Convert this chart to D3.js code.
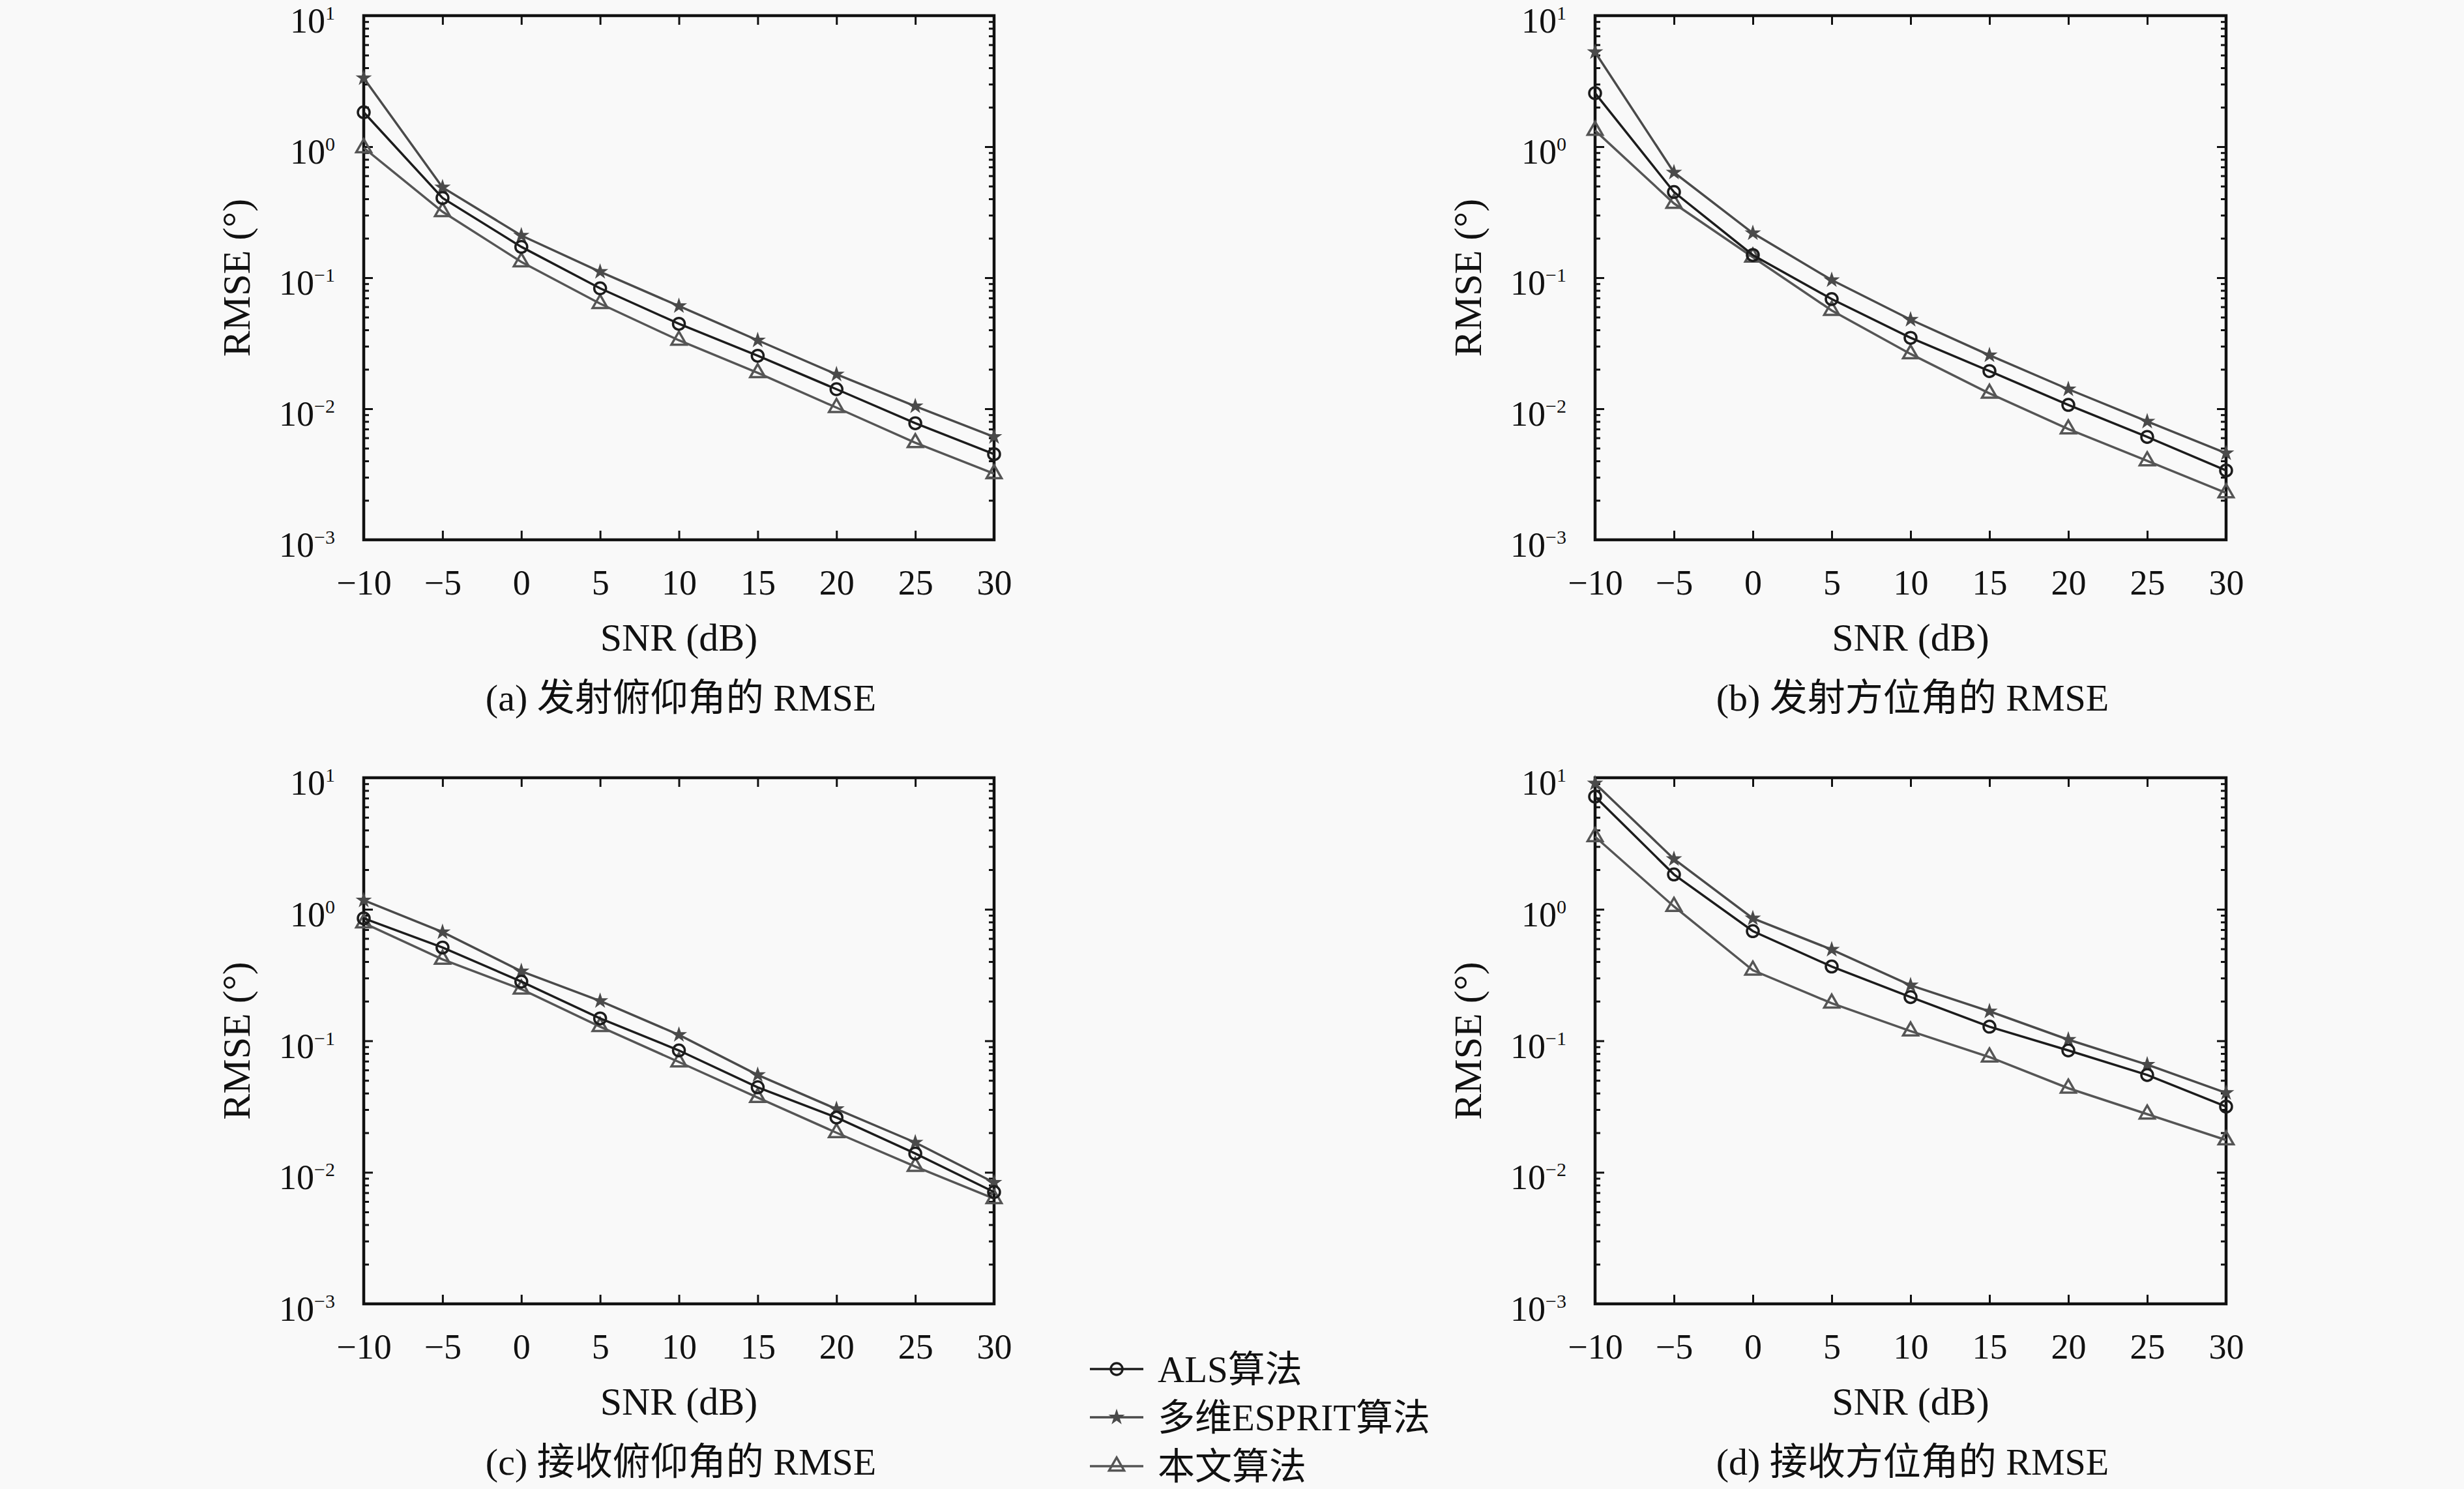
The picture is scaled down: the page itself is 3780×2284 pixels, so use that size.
<!DOCTYPE html>
<html>
<head>
  <meta charset="utf-8">
  <title>RMSE vs SNR</title>
  <script src="https://cdnjs.cloudflare.com/ajax/libs/d3/7.8.5/d3.min.js"></script>
  <style>
    body { margin: 0; background: #f9f9f9; }
  </style>
</head>
<body>
<script>
// ---- data ----
var snr = [-10, -5, 0, 5, 10, 15, 20, 25, 30];
var yExps = [1, 0, -1, -2, -3];
var seriesNames = ["ALS算法", "多维ESPRIT算法", "本文算法"];
var captions = ["(a) 发射俯仰角的 RMSE", "(b) 发射方位角的 RMSE",
                "(c) 接收俯仰角的 RMSE", "(d) 接收方位角的 RMSE"];

// (a) transmit elevation
var alsA    = [1.83, 0.406, 0.172, 0.083, 0.0445, 0.0254, 0.0141, 0.00776, 0.0045];
var espritA = [3.34, 0.489, 0.210, 0.111, 0.0608, 0.0333, 0.0183, 0.01045, 0.0061];
var oursA   = [0.98, 0.319, 0.132, 0.0634, 0.0333, 0.0188, 0.0102, 0.0055, 0.00319];
// (b) transmit azimuth
var alsB    = [2.56, 0.451, 0.149, 0.0687, 0.0348, 0.0194, 0.0107, 0.0061, 0.00338];
var espritB = [5.27, 0.636, 0.219, 0.096, 0.0479, 0.0256, 0.0141, 0.0080, 0.00458];
var oursB   = [1.33, 0.369, 0.1435, 0.0562, 0.0262, 0.0131, 0.0070, 0.0040, 0.00228];
// (c) receive elevation
var alsC    = [0.853, 0.512, 0.282, 0.148, 0.0845, 0.0443, 0.0261, 0.0139, 0.00708];
var espritC = [1.17, 0.671, 0.338, 0.201, 0.111, 0.055, 0.0303, 0.01686, 0.00835];
var oursC   = [0.785, 0.416, 0.247, 0.128, 0.069, 0.037, 0.020, 0.01107, 0.0063];
// (d) receive azimuth
var alsD    = [7.19, 1.84, 0.682, 0.367, 0.215, 0.128, 0.0845, 0.055, 0.0316];
var espritD = [9.06, 2.41, 0.853, 0.494, 0.264, 0.1676, 0.102, 0.0659, 0.0402];
var oursD   = [3.56, 1.05, 0.344, 0.193, 0.1185, 0.0752, 0.0436, 0.0277, 0.0176];

var W = 3780, H = 2284;
var colors = ["#1c1c1c", "#4a4a4a", "#555555"];
var serif = "'Liberation Serif', 'DejaVu Serif', 'Noto Sans CJK SC', serif";

var svg = d3.select("body").append("svg").attr("width", W).attr("height", H);
svg.append("rect").attr("width", W).attr("height", H).attr("fill", "#f9f9f9");

var panels = [
  { x0: 558,  x1: 1525, y0: 24,   y1: 828,  cap: captions[0], series: [alsA, espritA, oursA] },
  { x0: 2447, x1: 3415, y0: 24,   y1: 828,  cap: captions[1], series: [alsB, espritB, oursB] },
  { x0: 558,  x1: 1525, y0: 1193, y1: 2000, cap: captions[2], series: [alsC, espritC, oursC] },
  { x0: 2447, x1: 3415, y0: 1193, y1: 2000, cap: captions[3], series: [alsD, espritD, oursD] }
];

function minus(v) { return v < 0 ? "\u2212" + Math.abs(v) : String(v); }

function txt(sel) {
  return sel.append("text").attr("font-family", serif).attr("fill", "#111");
}

// marker drawing for series i at (px,py)
function marker(g, i, px, py) {
  if (i === 0) {
    g.append("circle").attr("cx", px).attr("cy", py).attr("r", 9)
     .attr("fill", "none").attr("stroke", colors[0]).attr("stroke-width", 3.5);
  } else if (i === 1) {
    g.append("path").attr("d", d3.symbol().type(d3.symbolStar).size(130)())
     .attr("transform", "translate(" + px + "," + py + ")")
     .attr("fill", colors[1]).attr("stroke", colors[1]).attr("stroke-width", 1.5);
  } else {
    g.append("path").attr("d", d3.symbol().type(d3.symbolTriangle).size(230)())
     .attr("transform", "translate(" + px + "," + py + ")")
     .attr("fill", "none").attr("stroke", colors[2]).attr("stroke-width", 3.5);
  }
}

panels.forEach(function(p) {
  var x = d3.scaleLinear().domain([-10, 30]).range([p.x0, p.x1]);
  var y = d3.scaleLog().domain([1e-3, 1e1]).range([p.y1, p.y0]);
  var g = svg.append("g");

  var majors = yExps.map(function(e) { return Math.pow(10, e); });
  var minors = y.ticks().filter(function(v) {
    return Math.abs(Math.log10(v) - Math.round(Math.log10(v))) > 1e-6;
  });

  // inside ticks on all four sides
  function styleAxis(sel) {
    sel.select(".domain").remove();
    sel.selectAll(".tick line").attr("stroke", "#111").attr("stroke-width", 3);
    sel.selectAll(".tick text").remove();
  }
  g.append("g").attr("transform", "translate(" + p.x0 + ",0)")
   .call(d3.axisLeft(y).tickValues(minors).tickSize(-8)).call(styleAxis);
  g.append("g").attr("transform", "translate(" + p.x0 + ",0)")
   .call(d3.axisLeft(y).tickValues(majors).tickSize(-14)).call(styleAxis);
  g.append("g").attr("transform", "translate(" + p.x1 + ",0)")
   .call(d3.axisRight(y).tickValues(minors).tickSize(-8)).call(styleAxis);
  g.append("g").attr("transform", "translate(" + p.x1 + ",0)")
   .call(d3.axisRight(y).tickValues(majors).tickSize(-14)).call(styleAxis);
  g.append("g").attr("transform", "translate(0," + p.y0 + ")")
   .call(d3.axisTop(x).tickValues(snr).tickSize(-14)).call(styleAxis);

  var xb = g.append("g").attr("transform", "translate(0," + p.y1 + ")")
   .call(d3.axisBottom(x).tickValues(snr).tickSize(-14).tickPadding(46).tickFormat(minus));
  xb.select(".domain").remove();
  xb.selectAll(".tick line").attr("stroke", "#111").attr("stroke-width", 3);
  xb.selectAll(".tick text").attr("font-size", 54).attr("fill", "#111")
    .attr("font-family", serif);

  // y tick labels 10^e
  yExps.forEach(function(e) {
    var t = txt(g).attr("x", p.x0 - 44).attr("y", y(Math.pow(10, e)) + 26)
      .attr("text-anchor", "end").attr("font-size", 54);
    t.append("tspan").text("10");
    t.append("tspan").attr("font-size", 30).attr("dy", -20).text(minus(e));
  });

  // frame
  g.append("rect").attr("x", p.x0).attr("y", p.y0)
   .attr("width", p.x1 - p.x0).attr("height", p.y1 - p.y0)
   .attr("fill", "none").attr("stroke", "#111").attr("stroke-width", 4.5);

  // series lines + markers
  var line = d3.line().x(function(d, i) { return x(snr[i]); }).y(function(d) { return y(d); });
  [2, 1, 0].forEach(function(i) {
    g.append("path").datum(p.series[i]).attr("d", line)
     .attr("fill", "none").attr("stroke", colors[i]).attr("stroke-width", 3.5);
    p.series[i].forEach(function(v, k) { marker(g, i, x(snr[k]), y(v)); });
  });

  var cx = (p.x0 + p.x1) / 2;
  txt(g).attr("x", cx).attr("y", p.y1 + 170).attr("text-anchor", "middle")
   .attr("font-size", 60).text("SNR (dB)");
  txt(g).attr("transform", "translate(" + (p.x0 - 175) + "," + ((p.y0 + p.y1) / 2) + ") rotate(-90)")
   .attr("text-anchor", "middle").attr("font-size", 60).text("RMSE (\u00b0)");
  txt(g).attr("x", cx + 3).attr("y", p.y1 + 262).attr("text-anchor", "middle")
   .attr("font-size", 58).text(p.cap);
});

// legend
var leg = svg.append("g");
var legRows = [2100, 2174, 2249];
seriesNames.forEach(function(name, i) {
  var ry = legRows[i];
  leg.append("line").attr("x1", 1672).attr("x2", 1754).attr("y1", ry).attr("y2", ry)
     .attr("stroke", colors[i]).attr("stroke-width", 3.5);
  marker(leg, i, 1713, ry);
  txt(leg).attr("x", 1776).attr("y", ry + 20).attr("font-size", 57).text(name);
});
</script>
</body>
</html>
